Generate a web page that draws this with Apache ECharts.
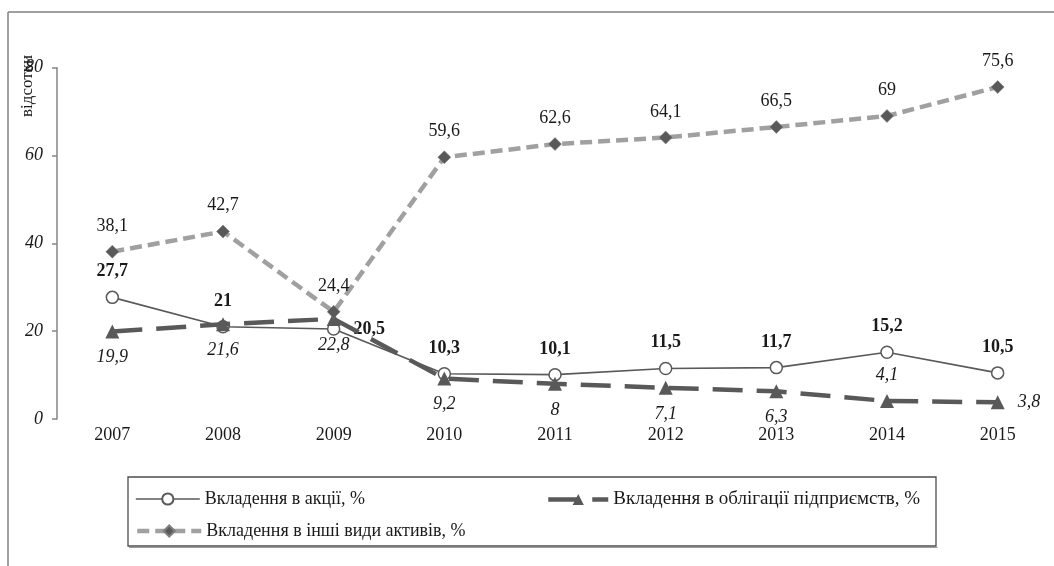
<!DOCTYPE html>
<html>
<head>
<meta charset="utf-8">
<script src="https://cdn.jsdelivr.net/npm/echarts@6/dist/echarts.min.js"></script>
<style>
html,body{margin:0;padding:0;background:#fff;}
#chart{width:1054px;height:566px;}
</style>
</head>
<body>
<div id="chart"></div>
<script>
// ---- data ----
const years = ['2007', '2008', '2009', '2010', '2011', '2012', '2013', '2014', '2015'];
const shares = [27.7, 21, 20.5, 10.3, 10.1, 11.5, 11.7, 15.2, 10.5];
const bonds = [19.9, 21.6, 22.8, 9.2, 8, 7.1, 6.3, 4.1, 3.8];
const other = [38.1, 42.7, 24.4, 59.6, 62.6, 64.1, 66.5, 69, 75.6];
const yTicks = [0, 20, 40, 60, 80];
const seriesNames = [
  'Вкладення в акції, %',
  'Вкладення в облігації підприємств, %',
  'Вкладення в інші види активів, %'
];
const yAxisTitle = 'відсотки';
// label placement exceptions (index -> position)
const sharesLabelPos = {2: 'right'};
const bondsLabelPos = {7: 'top', 8: 'right'};

const FONT = "'Liberation Serif', 'Times New Roman', serif";
const fmt = p => String(p.value).replace('.', ',');

function buildData(values, posMap, base) {
  return values.map((v, i) => {
    if (posMap[i]) {
      const pos = posMap[i];
      return {value: v, label: {position: pos, distance: pos === 'right' ? 13 : base}};
    }
    return v;
  });
}

const styles = [
  {line: {color: '#595959', width: 1.6, type: 'solid'}},
  {line: {color: '#595959', width: 4.5, type: [30, 14]}},
  {line: {color: '#a0a0a0', width: 4.5, type: [12, 6]}}
];

const chart = echarts.init(document.getElementById('chart'), null, {renderer: 'canvas'});

const legendText = {fontFamily: FONT, fontSize: 18, color: '#1a1a1a'};

const option = {
  animation: false,
  backgroundColor: '#ffffff',
  textStyle: {fontFamily: FONT},
  grid: {left: 57, right: 1, top: 67.7, bottom: 147, containLabel: false},
  xAxis: {
    type: 'category',
    data: years,
    boundaryGap: true,
    axisLine: {show: false},
    axisTick: {show: false},
    axisLabel: {color: '#1a1a1a', fontFamily: FONT, fontSize: 18, margin: 7}
  },
  yAxis: {
    type: 'value',
    min: yTicks[0],
    max: yTicks[yTicks.length - 1],
    interval: yTicks[1] - yTicks[0],
    axisLine: {show: true, lineStyle: {color: '#868686', width: 1.5}},
    axisTick: {show: true, length: 5, lineStyle: {color: '#868686', width: 1.5}},
    splitLine: {show: false},
    axisLabel: {color: '#1a1a1a', fontFamily: FONT, fontSize: 18, fontStyle: 'italic', margin: 14}
  },
  legend: [
    {
      data: [seriesNames[0]], left: 130, top: 485, itemWidth: 64, itemHeight: 14,
      lineStyle: {width: 1.6, type: 'solid', color: '#595959'},
      textStyle: legendText
    },
    {
      data: [seriesNames[1]], left: 541, top: 485, itemWidth: 60, itemHeight: 14,
      lineStyle: {width: 4.5, type: [30, 14], color: '#595959'},
      textStyle: Object.assign({}, legendText, {fontSize: 19})
    },
    {
      data: [seriesNames[2]], left: 130, top: 517, itemWidth: 64, itemHeight: 14,
      lineStyle: {width: 4.5, type: [12, 6], color: '#a0a0a0'},
      textStyle: legendText
    }
  ],
  graphic: [
    {type: 'line', shape: {x1: 8, y1: 12, x2: 1054, y2: 12}, style: {stroke: '#808080', lineWidth: 1.5}, silent: true},
    {type: 'line', shape: {x1: 8, y1: 12, x2: 8, y2: 566}, style: {stroke: '#808080', lineWidth: 1.5}, silent: true},
    {type: 'rect', shape: {x: 128, y: 477, width: 808, height: 69}, style: {fill: 'none', stroke: '#4d4d4d', lineWidth: 1.3}, silent: true, z: -1},
    {type: 'line', shape: {x1: 129, y1: 547.5, x2: 937.5, y2: 547.5}, style: {stroke: '#9a9a9a', lineWidth: 1.2}, silent: true, z: -1},
    {type: 'text', x: 28, y: 86, rotation: Math.PI / 2,
      style: {text: yAxisTitle, fontFamily: FONT, fontSize: 17, fill: '#1a1a1a', align: 'center', verticalAlign: 'middle'}, silent: true}
  ],
  series: [
    {
      name: seriesNames[0],
      type: 'line',
      data: buildData(shares, sharesLabelPos, 10),
      symbol: 'circle',
      symbolSize: 12,
      z: 3,
      lineStyle: styles[0].line,
      itemStyle: {color: '#ffffff', borderColor: '#595959', borderWidth: 1.5},
      label: {show: true, position: 'top', distance: 10, formatter: fmt,
        fontFamily: FONT, fontSize: 18, fontWeight: 'bold', color: '#1a1a1a'}
    },
    {
      name: seriesNames[1],
      type: 'line',
      data: buildData(bonds, bondsLabelPos, 10),
      symbol: 'triangle',
      symbolSize: 14,
      z: 4,
      lineStyle: styles[1].line,
      itemStyle: {color: '#595959', borderColor: '#595959', borderWidth: 0},
      label: {show: true, position: 'bottom', distance: 10, formatter: fmt,
        fontFamily: FONT, fontSize: 18, fontStyle: 'italic', color: '#1a1a1a'}
    },
    {
      name: seriesNames[2],
      type: 'line',
      data: other,
      symbol: 'diamond',
      symbolSize: 13,
      z: 5,
      lineStyle: styles[2].line,
      itemStyle: {color: '#595959', borderColor: '#808080', borderWidth: 0.5},
      label: {show: true, position: 'top', distance: 10, formatter: fmt,
        fontFamily: FONT, fontSize: 18, color: '#1a1a1a'}
    }
  ]
};

chart.setOption(option);
</script>
</body>
</html>
